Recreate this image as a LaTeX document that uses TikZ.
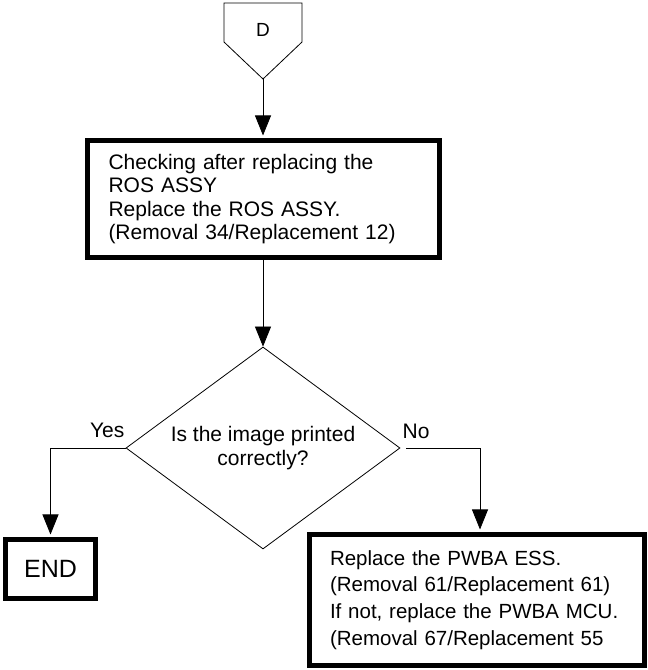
\documentclass[tikz,border=0pt]{standalone}
\usepackage{fontspec}
\setmainfont{Liberation Sans}
\usepackage{tikz}
\usetikzlibrary{shapes.geometric, arrows.meta, positioning}

\begin{document}
\begin{tikzpicture}[
    x=1pt, y=1pt,
    every node/.style={font=\fontsize{21}{23.5}\selectfont},
    >={Triangle[length=20pt, width=16pt]},
    flowline/.style={line width=0.8pt},
    tobox/.style={shorten >=2.5pt},
    stepbox/.style={draw, line width=5pt, align=left, inner xsep=21.5pt},
    decision/.style={draw, diamond, line width=0.8pt, inner sep=0pt, shape aspect=1.356,
        minimum width=274pt, minimum height=202pt, align=center}
]

\useasboundingbox (0,0) rectangle (648,670);

% Off-page connector D
\draw[flowline] (224,667) -- (302,667) -- (302,628) -- (263,591) coordinate (dtip) -- (224,628) -- cycle;
\node[font=\fontsize{19}{21}\selectfont] (conD) at (263,640) {D};

% ROS ASSY step
\node[stepbox, text width=309pt, minimum height=117pt] (ros) at (263,471)
    {Checking after replacing the\\ROS ASSY\\Replace the ROS ASSY.\\(Removal 34/Replacement 12)};

% Decision
\node[decision] (check) at (263,222) {Is the image printed\\correctly?};
\node[above left=10pt and 1pt of check.west, inner sep=0pt] (yes) {Yes};
\node[above right=9pt and 2pt of check.east, inner sep=0pt] (no) {No};

% END
\node[stepbox, font=\fontsize{25}{28}\selectfont, align=center, inner xsep=0pt,
    minimum width=90pt, minimum height=59pt] (finish) at (50.5,101) {END};

% PWBA step
\node[stepbox, font=\fontsize{20.5}{26.7}\selectfont, text width=294pt, inner xsep=20.5pt,
    minimum height=131pt] (pwba) at (477,70)
    {Replace the PWBA ESS.\\(Removal 61/Replacement 61)\\If not, replace the PWBA MCU.\\(Removal 67/Replacement 55};

% Connectors
\draw[flowline, ->, tobox] (dtip) -- (ros.north);
\draw[flowline, ->] (ros.south) -- (check.north);
\draw[flowline, ->, tobox] (check.west) -| (finish.north);
\draw[flowline, ->, tobox, shorten <=6pt] (check.east) -| ([xshift=3pt]pwba.north);

\end{tikzpicture}
\end{document}
